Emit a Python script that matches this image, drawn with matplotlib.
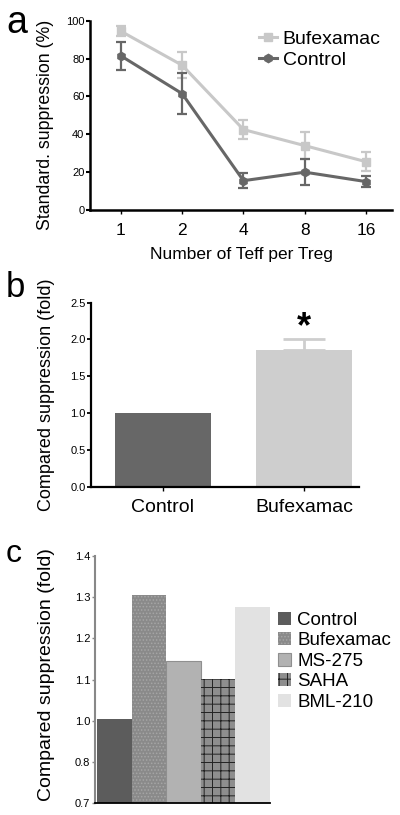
import numpy as np
import matplotlib
matplotlib.use("Agg")
import matplotlib.pyplot as plt
from matplotlib.lines import Line2D

plt.rcParams['font.family'] = ['Liberation Sans', 'DejaVu Sans']
plt.rcParams['hatch.linewidth'] = 0.7

# --- panel a: suppression vs Teff:Treg ratio ---
ratios = ['1', '2', '4', '8', '16']
bufex_a = [94.5, 76.5, 42.5, 34, 25.5]
bufex_a_err = [2.5, 7, 5, 7, 5]
control_a = [81.5, 61.5, 15.5, 20, 15]
control_a_err = [7.5, 11, 4, 7, 3]

# --- panel b: fold suppression ---
groups_b = ['Control', 'Bufexamac']
fold_b = [1.0, 1.86]
fold_b_err = [0.0, 0.14]

# --- panel c: HDAC inhibitors ---
drugs_c = ['Control', 'Bufexamac', 'MS-275', 'SAHA', 'BML-210']
fold_c = [1.003, 1.305, 1.146, 1.101, 1.277]
c_ticks = [0.8, 0.9, 1.0, 1.1, 1.2, 1.3, 1.4]
c_ticklabels = ['0.7', '0.8', '1.0', '1.1', '1.2', '1.3', '1.4']

LIGHT = '#c8c8c8'
DARK = '#676767'

fig = plt.figure(figsize=(4, 8.15), dpi=100)

# ================= a =================
ax = fig.add_axes([0.225, 0.7423, 0.755, 0.2323])
x = np.arange(len(ratios))
ax.errorbar(x, bufex_a, yerr=bufex_a_err, color=LIGHT, lw=2.2, marker='s',
            ms=6, capsize=3.5, capthick=1.6, elinewidth=1.6, zorder=2)
ax.errorbar(x, control_a, yerr=control_a_err, color=DARK, lw=2.2, marker='h',
            ms=6, capsize=3.5, capthick=1.6, elinewidth=1.6, zorder=3)
ax.set_xticks(x)
ax.set_xticklabels(ratios, fontsize=12.5)
ax.set_xlim(-0.5, 4.42)
ax.set_ylim(0, 100)
ax.set_yticks([0, 20, 40, 60, 80, 100])
ax.tick_params(axis='y', labelsize=8, length=3, width=1.5, pad=1)
ax.tick_params(axis='x', length=3, width=1, pad=6)
for s in ['top', 'right']:
    ax.spines[s].set_visible(False)
for s in ['left', 'bottom']:
    ax.spines[s].set_linewidth(1.8)
ax.set_xlabel('Number of Teff per Treg', fontsize=12.5, labelpad=7)
ax.set_ylabel('Standard. suppression (%)', fontsize=12.8)
ax.yaxis.set_label_coords(-0.12, 0.45)
handles = [Line2D([], [], color=LIGHT, lw=2.2, marker='s', ms=6),
           Line2D([], [], color=DARK, lw=2.2, marker='h', ms=6)]
ax.legend(handles, ['Bufexamac', 'Control'], loc='upper right', frameon=False,
          fontsize=14, handlelength=0.9, handletextpad=0.3, labelspacing=0.15,
          bbox_to_anchor=(1.02, 1.04))
fig.text(0.015, 0.9595, 'a', fontsize=27)

# ================= b =================
ax = fig.add_axes([0.2275, 0.4028, 0.67, 0.2258])
xb = np.arange(len(groups_b))
ax.bar(xb, fold_b, width=0.68, color=[DARK, '#cecece'], zorder=2)
ax.errorbar(xb[1:], fold_b[1:], yerr=[[0], fold_b_err[1:]], fmt='none',
            ecolor='#cecece', elinewidth=2, capsize=15, capthick=2, zorder=1)
ax.text(xb[1], fold_b[1] + fold_b_err[1] + 0.16, '*', ha='center', va='center',
        fontsize=26, fontweight='bold')
ax.set_xticks(xb)
ax.set_xticklabels(groups_b, fontsize=14)
ax.set_xlim(-0.51, 1.39)
ax.set_ylim(0, 2.5)
ax.set_yticks([0, 0.5, 1.0, 1.5, 2.0, 2.5])
ax.set_yticklabels(['0.0', '0.5', '1.0', '1.5', '2.0', '2.5'])
ax.tick_params(axis='y', labelsize=8, length=3, width=1.3, pad=1)
ax.tick_params(axis='x', length=3, width=1, pad=6)
for s in ['top', 'right']:
    ax.spines[s].set_visible(False)
for s in ['left', 'bottom']:
    ax.spines[s].set_linewidth(1.6)
ax.set_ylabel('Compared suppression (fold)', fontsize=13)
ax.yaxis.set_label_coords(-0.135, 0.5)
fig.text(0.015, 0.6356, 'b', fontsize=25)

# ================= c =================
ax = fig.add_axes([0.2375, 0.0147, 0.4375, 0.3031])
xc = np.arange(len(drugs_c))
faces = ['#5c5c5c', '#8a8a8a', '#b2b2b2', '#8e8e8e', '#e2e2e2']
edges = ['#5c5c5c', '#a6a6a6', '#8f8f8f', '#222222', '#e2e2e2']
hatches = [None, '.....', None, '++', None]
widths = [0, 0, 0.8, 0, 0]
bars = ax.bar(xc, fold_c, width=1.0, color=faces, zorder=2)
for b, ec, h, lw in zip(bars, edges, hatches, widths):
    b.set_edgecolor(ec)
    b.set_linewidth(lw)
    if h:
        b.set_hatch(h)
ax.set_xlim(-0.56, 4.5)
ax.set_ylim(0.8, 1.4)
ax.set_yticks(c_ticks)
ax.set_yticklabels(c_ticklabels)
ax.set_xticks([])
ax.tick_params(axis='y', labelsize=8, length=2, width=1, color='#888888', pad=1.5)
for s in ['top', 'right']:
    ax.spines[s].set_visible(False)
ax.spines['left'].set_color('#888888')
ax.spines['left'].set_linewidth(1.5)
ax.spines['bottom'].set_linewidth(1.3)
ax.set_ylabel('Compared suppression (fold)', fontsize=14)
ax.yaxis.set_label_coords(-0.23, 0.52)
ax.legend(bars, drugs_c, loc='upper left', frameon=False, fontsize=13.5,
          handlelength=0.7, handleheight=0.7, handletextpad=0.35,
          labelspacing=0.18, borderaxespad=0,
          bbox_to_anchor=(1.0, 0.805))
fig.text(0.015, 0.3104, 'c', fontsize=23)

fig.savefig('out.png', dpi=100)
